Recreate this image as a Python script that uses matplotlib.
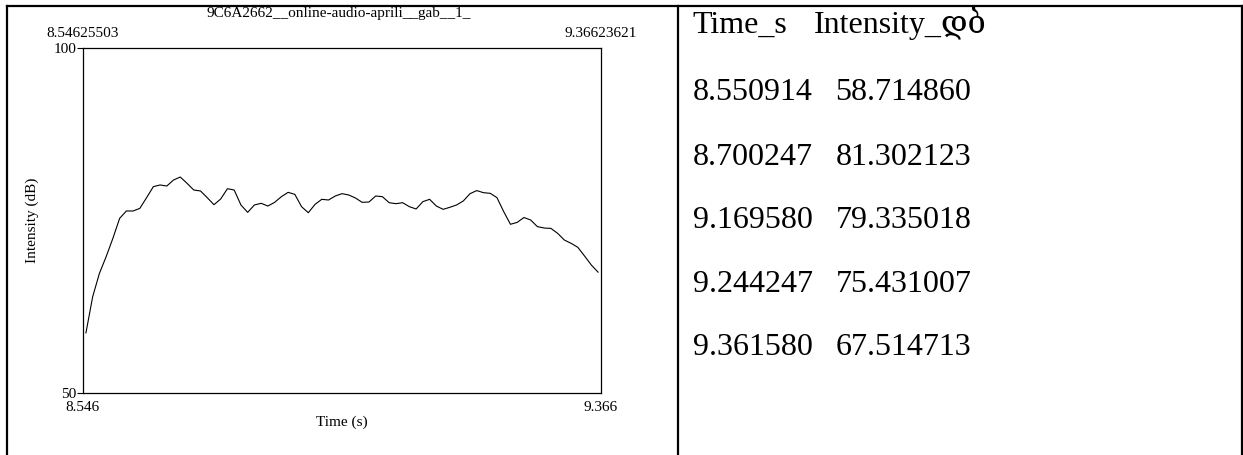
import matplotlib
matplotlib.use("Agg")
import matplotlib.pyplot as plt
from matplotlib.lines import Line2D

# Intensity contour (frame times in seconds, intensity in dB)
times = [
    8.550914, 8.561581, 8.572247, 8.582914, 8.593581, 8.604247, 8.614914, 8.625581,
    8.636247, 8.646914, 8.657581, 8.668247, 8.678914, 8.689581, 8.700247, 8.710914,
    8.721581, 8.732247, 8.742914, 8.753581, 8.764247, 8.774914, 8.785581, 8.796247,
    8.806914, 8.817581, 8.828247, 8.838914, 8.849581, 8.860247, 8.870914, 8.881581,
    8.892247, 8.902914, 8.913581, 8.924247, 8.934914, 8.945581, 8.956247, 8.966914,
    8.977581, 8.988247, 8.998914, 9.009581, 9.020247, 9.030914, 9.041581, 9.052247,
    9.062914, 9.073581, 9.084247, 9.094914, 9.105581, 9.116247, 9.126914, 9.137581,
    9.148247, 9.158914, 9.169580, 9.180247, 9.190914, 9.201581, 9.212247, 9.222914,
    9.233581, 9.244247, 9.254914, 9.265581, 9.276247, 9.286914, 9.297581, 9.308247,
    9.318914, 9.329581, 9.340247, 9.350914, 9.361580,
]
intensity_db = [
    58.714860, 63.96, 67.34, 69.76, 72.42, 75.31, 76.38, 76.38,
    76.76, 78.31, 79.90, 80.15, 80.00, 80.87, 81.302123, 80.39,
    79.42, 79.28, 78.31, 77.29, 78.12, 79.61, 79.42, 77.25,
    76.18, 77.25, 77.49, 77.10, 77.63, 78.45, 79.08, 78.79,
    77.00, 76.13, 77.34, 78.07, 77.97, 78.55, 78.89, 78.70,
    78.26, 77.63, 77.68, 78.55, 78.45, 77.58, 77.44, 77.58,
    77.00, 76.67, 77.73, 78.07, 77.10, 76.62, 76.91, 77.25,
    77.83, 78.89, 79.335018, 79.03, 78.94, 78.31, 76.28, 74.45,
    74.73, 75.431007, 75.07, 74.11, 73.91, 73.86, 73.14, 72.17,
    71.69, 71.11, 69.85, 68.55, 67.514713,
]

# Frames listed in the table next to the plot
table_rows = [0, 14, 58, 65, 76]
table_header = ["Time_s", "Intensity_დბ"]

title = "9C6A2662__online-audio-aprili__gab__1_"
t_start, t_end = 8.54625503, 9.36623621
db_min, db_max = 50, 100

W, H = 1243, 455
fig = plt.figure(figsize=(W / 100, H / 100), dpi=100)


def fx(px):
    return px / W


def fy(py):
    return 1 - py / H


serif = ["Liberation Serif", "DejaVu Serif", "DejaVu Sans"]

# Table frame
frame_kw = dict(color="black", lw=1.6, transform=fig.transFigure, solid_capstyle="projecting")
fig.add_artist(Line2D([fx(6.5), fx(1241.8)], [fy(5.8), fy(5.8)], **frame_kw))
fig.add_artist(Line2D([fx(6.5), fx(6.5)], [fy(5.8), fy(456)], **frame_kw))
fig.add_artist(Line2D([fx(1241.8), fx(1241.8)], [fy(5.8), fy(456)], **frame_kw))
fig.add_artist(Line2D([fx(677.5), fx(677.5)], [fy(5.8), fy(456)], **frame_kw))

# Intensity plot
left, right, top, bottom = 83, 601, 48, 393
ax = fig.add_axes([fx(left), fy(bottom), (right - left) / W, (bottom - top) / H])
ax.plot(times, intensity_db, color="black", lw=0.8)
ax.set_xlim(t_start, t_end)
ax.set_ylim(db_min, db_max)
for sp in ax.spines.values():
    sp.set_linewidth(0.9)

fs = 11
ax.set_yticks([db_min, db_max])
ax.set_yticklabels([str(db_min), str(db_max)], family=serif, fontsize=fs)
ax.tick_params(axis="y", direction="out", length=4.3, width=0.8, pad=0.5)
ax.set_xticks([t_start, t_end])
ax.set_xticklabels([f"{t_start:.3f}", f"{t_end:.3f}"], family=serif, fontsize=fs)
ax.tick_params(axis="x", direction="out", length=0, pad=5.5)

ax.set_xlabel("Time (s)", family=serif, fontsize=fs)
ax.xaxis.label.set_va("center")
ax.xaxis.set_label_coords(0.5, -(422 - bottom) / (bottom - top))
ax.set_ylabel("Intensity (dB)", family=serif, fontsize=fs)
ax.yaxis.label.set_va("center")
ax.yaxis.set_label_coords((32.6 - left) / (right - left), 0.5)

# Exact range shown above the plot
ax.text(t_start, 1 + (top - 33) / (bottom - top), f"{t_start:.8f}", transform=ax.get_xaxis_transform(),
        ha="center", va="center", family=serif, fontsize=fs)
ax.text(t_end, 1 + (top - 33) / (bottom - top), f"{t_end:.8f}", transform=ax.get_xaxis_transform(),
        ha="center", va="center", family=serif, fontsize=fs)
fig.text(fx(339), fy(14), title, ha="center", va="center", family=serif, fontsize=fs)

# Table of selected frames
tfs = 23
col1_x, col2_x, head2_x = 692.6, 835.4, 813.8
fig.text(fx(col1_x), fy(33), table_header[0], ha="left", va="baseline", family=serif, fontsize=tfs)
fig.text(fx(head2_x), fy(33), table_header[1], ha="left", va="baseline", family=serif, fontsize=tfs)
baselines = [100, 165, 228, 292, 355]
for base, i in zip(baselines, table_rows):
    fig.text(fx(col1_x), fy(base), f"{times[i]:.6f}", ha="left", va="baseline", family=serif, fontsize=tfs)
    fig.text(fx(col2_x), fy(base), f"{intensity_db[i]:.6f}", ha="left", va="baseline", family=serif, fontsize=tfs)

fig.savefig("out.png", dpi=100)
